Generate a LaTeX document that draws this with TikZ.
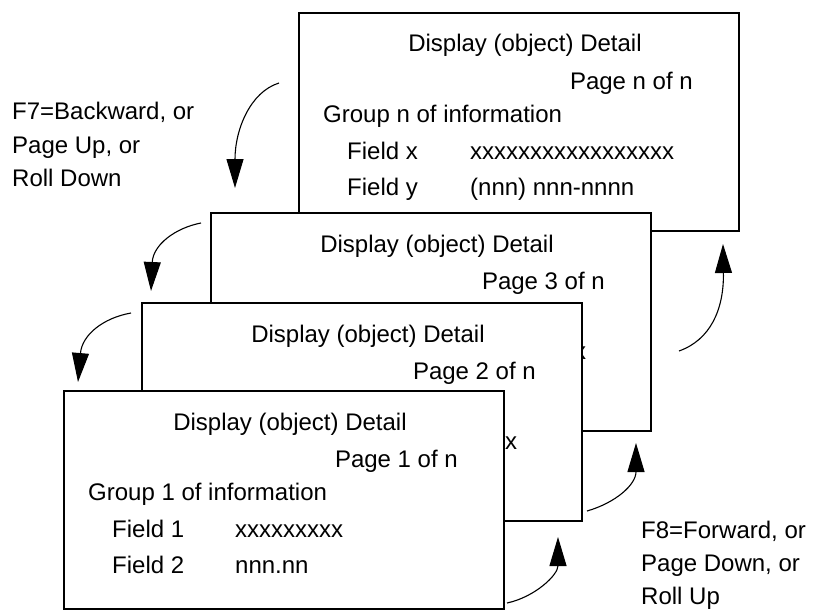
\documentclass[tikz,border=0pt]{standalone}
\usepackage{fontspec}
\setmainfont{Liberation Sans}
\usetikzlibrary{arrows.meta}

\begin{document}
\begin{tikzpicture}[x=1pt, y=-1pt,
    screen/.style={draw, line width=1.7pt, fill=white, minimum width=440pt, minimum height=218pt, inner sep=0pt, anchor=north west},
    txt/.style={inner sep=0pt, font=\fontsize{24}{28}\selectfont},
    lefttxt/.style={txt, anchor=base west},
    turn/.style={-{Triangle[length=29pt, width=17pt]}, line width=1.1pt}
  ]
  \useasboundingbox (0,0) rectangle (817,610);

  % page n, at the back
  \node[screen] (scrn) at (298,12) {};
  \node[txt, anchor=base] (titn) at ([shift={(227,40)}]scrn.north west) {Display (object) Detail};
  \node[txt, anchor=base east] (pgn) at ([shift={(395,77)}]scrn.north west) {Page n of n};
  \node[lefttxt] (grpn) at ([shift={(25,110)}]scrn.north west) {Group n of information};
  \node[lefttxt] (fxn) at ([shift={(49,147)}]scrn.north west) {Field x};
  \node[lefttxt] (vxn) at ([shift={(172,147)}]scrn.north west) {xxxxxxxxxxxxxxxxx};
  \node[lefttxt] (fyn) at ([shift={(49,183)}]scrn.north west) {Field y};
  \node[lefttxt] (vyn) at ([shift={(172,183)}]scrn.north west) {(nnn) nnn-nnnn};

  % page 3 (only the end of its field row shows)
  \node[screen] (scr3) at (210,212) {};
  \node[txt, anchor=base] (tit3) at ([shift={(227,40)}]scr3.north west) {Display (object) Detail};
  \node[txt, anchor=base east] (pg3) at ([shift={(395,77)}]scr3.north west) {Page 3 of n};
  \node[lefttxt] (vx3) at ([shift={(364,147)}]scr3.north west) {x};

  % page 2
  \node[screen] (scr2) at (141,302) {};
  \node[txt, anchor=base] (tit2) at ([shift={(227,40)}]scr2.north west) {Display (object) Detail};
  \node[txt, anchor=base east] (pg2) at ([shift={(395,77)}]scr2.north west) {Page 2 of n};
  \node[lefttxt] (vx2) at ([shift={(364,147)}]scr2.north west) {x};

  % page 1, in front
  \node[screen] (scr1) at (63,390) {};
  \node[txt, anchor=base] (tit1) at ([shift={(227,40)}]scr1.north west) {Display (object) Detail};
  \node[txt, anchor=base east] (pg1) at ([shift={(395,77)}]scr1.north west) {Page 1 of n};
  \node[lefttxt] (grp1) at ([shift={(25,110)}]scr1.north west) {Group 1 of information};
  \node[lefttxt] (f11) at ([shift={(49,147)}]scr1.north west) {Field 1};
  \node[lefttxt] (v11) at ([shift={(172,147)}]scr1.north west) {xxxxxxxxx};
  \node[lefttxt] (f12) at ([shift={(49,183)}]scr1.north west) {Field 2};
  \node[lefttxt] (v12) at ([shift={(172,183)}]scr1.north west) {nnn.nn};

  % key labels
  \node[lefttxt] (back1) at (12,120) {F7=Backward, or};
  \node[lefttxt] (back2) at (12,153) {Page Up, or};
  \node[lefttxt] (back3) at (12,186) {Roll Down};
  \node[lefttxt] (fwd1) at (641,538) {F8=Forward, or};
  \node[lefttxt] (fwd2) at (641,571) {Page Down, or};
  \node[lefttxt] (fwd3) at (641,604) {Roll Up};

  % backward turns
  \coordinate (bk1s) at (279,83);  \coordinate (bk1e) at (235,188);
  \coordinate (bk2s) at (201,223); \coordinate (bk2e) at (151,291);
  \coordinate (bk3s) at (131,313); \coordinate (bk3e) at (78,382);
  \draw[turn] (bk1s) .. controls (250,92) and (235,130) .. (bk1e);
  \draw[turn] (bk2s) .. controls (175,228) and (153,245) .. (bk2e);
  \draw[turn] (bk3s) .. controls (103,318) and (82,335) .. (bk3e);

  % forward turns
  \coordinate (fw1s) at (507,603); \coordinate (fw1e) at (558,537);
  \coordinate (fw2s) at (587,511); \coordinate (fw2e) at (636,443);
  \coordinate (fw3s) at (679,351); \coordinate (fw3e) at (723,244);
  \draw[turn] (fw1s) .. controls (535,597) and (558,575) .. (fw1e);
  \draw[turn] (fw2s) .. controls (615,503) and (636,485) .. (fw2e);
  \draw[turn] (fw3s) .. controls (710,340) and (724,310) .. (fw3e);
\end{tikzpicture}
\end{document}
